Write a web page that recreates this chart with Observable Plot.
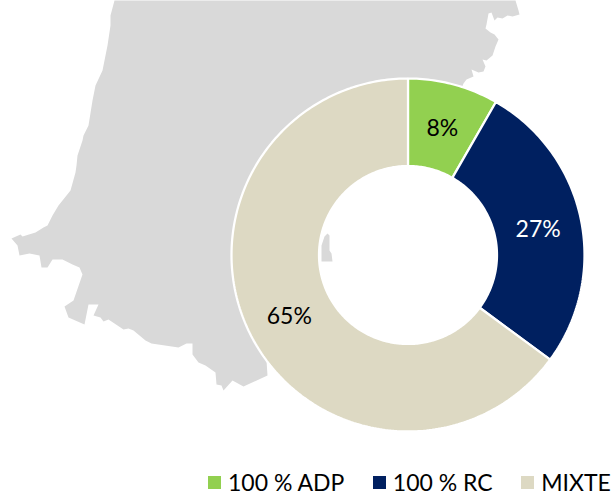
<!DOCTYPE html>
<html><head><meta charset="utf-8">
<script src="https://cdn.jsdelivr.net/npm/d3@7"></script>
<script src="https://cdn.jsdelivr.net/npm/@observablehq/plot@0.6"></script>
<style>
html,body{margin:0;padding:0;background:#fff;overflow:hidden}
#legend{position:absolute;left:208px;top:468px;width:407px}
#legend div{font-family:Lato,sans-serif;font-size:23px;color:#000;white-space:nowrap}
#legend > div {display:flex !important;flex-wrap:nowrap !important;margin:0 !important;width:max-content;min-height:0 !important}
#legend > div > * {margin-right:28.5px !important}
#legend > div > *:last-child {margin-right:0 !important}
#legend svg{margin-right:7px !important}
</style></head><body>
<div id="chart"></div><div id="legend"></div>
<script>
const categories = ["100 % ADP","100 % RC","MIXTE"];
const shares = [8.3,26.8,64.9];
const sliceColors = ["#92d050","#002060","#ddd9c3"];
const labelColors = ["#000000","#ffffff","#000000"];
const mapOutline = [[114,0],[515,0],[518,10],[519,14],[512,16],[507,15],[502,18],[497,17],[494,20],[491,12],[488,13],[486,24],[485,28],[490,32],[494,34],[498,39],[495,46],[492,55],[486,60],[482,59],[485,66],[483,71],[478,72],[471,69],[473,76],[466,79],[463,83],[461,88],[450,130],[408,124],[316,162],[278,254],[300,330],[266,360],[267,375],[243,386],[232,380],[223,390],[221,385],[216,384],[215,372],[205,365],[198,362],[192,354],[192,343],[186,343],[178,347],[151,343],[145,340],[133,330],[128,328],[123,329],[108,319],[103,321],[100,317],[93,315],[98,304],[88,304],[84,324],[68,317],[64,306],[73,300],[82,274],[79,267],[72,264],[62,259],[52,259],[47,267],[41,267],[39,255],[29,253],[19,255],[17,245],[11,238],[20,234],[22,236],[35,232],[43,227],[47,225],[52,215],[58,205],[70,190],[75,172],[76,165],[77,155],[82,140],[83,135],[88,125],[92,100],[95,85],[102,70],[107,45],[110,25],[110,15]];
const mapIslet = [[324,236],[327,233],[329,235],[329,250],[331,253],[332,261],[321,261],[321,245]];

const cx = 407.5, cy = 254.5, R = 176.5, r = 89, rLabel = 133;
const total = d3.sum(shares);
const pt = (rad, a) => ({x: cx + rad * Math.sin(a), y: cy - rad * Math.cos(a)});
let acc = 0;
const slices = categories.map((name, i) => {
  const a0 = acc / total * 2 * Math.PI; acc += shares[i];
  const a1 = acc / total * 2 * Math.PI;
  const n = Math.ceil((a1 - a0) * 60);
  const outer = d3.range(n + 1).map(k => pt(R, a0 + (a1 - a0) * k / n));
  const inner = d3.range(n + 1).map(k => pt(r, a1 - (a1 - a0) * k / n));
  const mid = pt(rLabel, (a0 + a1) / 2);
  return {name, i, points: [...outer, ...inner, outer[0]].map(p => ({...p, name})), label: {...mid, text: Math.round(shares[i]) + "%", color: labelColors[i]}};
});
const toXY = pts => pts.map(([x, y]) => ({x, y}));

const chart = Plot.plot({
  width: 615, height: 466, margin: 0,
  x: {domain: [0, 615], range: [0, 615], axis: null},
  y: {domain: [0, 466], range: [0, 466], axis: null},
  color: {domain: categories, range: sliceColors},
  marks: [
    Plot.line(toXY(mapOutline), {x: "x", y: "y", fill: "#d9d9d9", stroke: "none", curve: "linear-closed"}),
    Plot.line(toXY(mapIslet), {x: "x", y: "y", fill: "#d9d9d9", stroke: "none", curve: "linear-closed"}),
    ...slices.map(s => Plot.line(s.points, {x: "x", y: "y", fill: "name", stroke: "white", strokeWidth: 2.25, strokeLinejoin: "miter", curve: "linear-closed"})),
    Plot.text(slices.map(s => s.label), {x: "x", y: "y", dy: 2, text: "text", fill: "color", fontSize: 23, fontFamily: "Lato, sans-serif"})
  ],
  style: {background: "#fff"}
});
document.getElementById("chart").append(chart);
document.getElementById("legend").append(chart.legend("color", {swatchSize: 13, swatchWidth: 13, swatchHeight: 13}));
</script></body></html>
